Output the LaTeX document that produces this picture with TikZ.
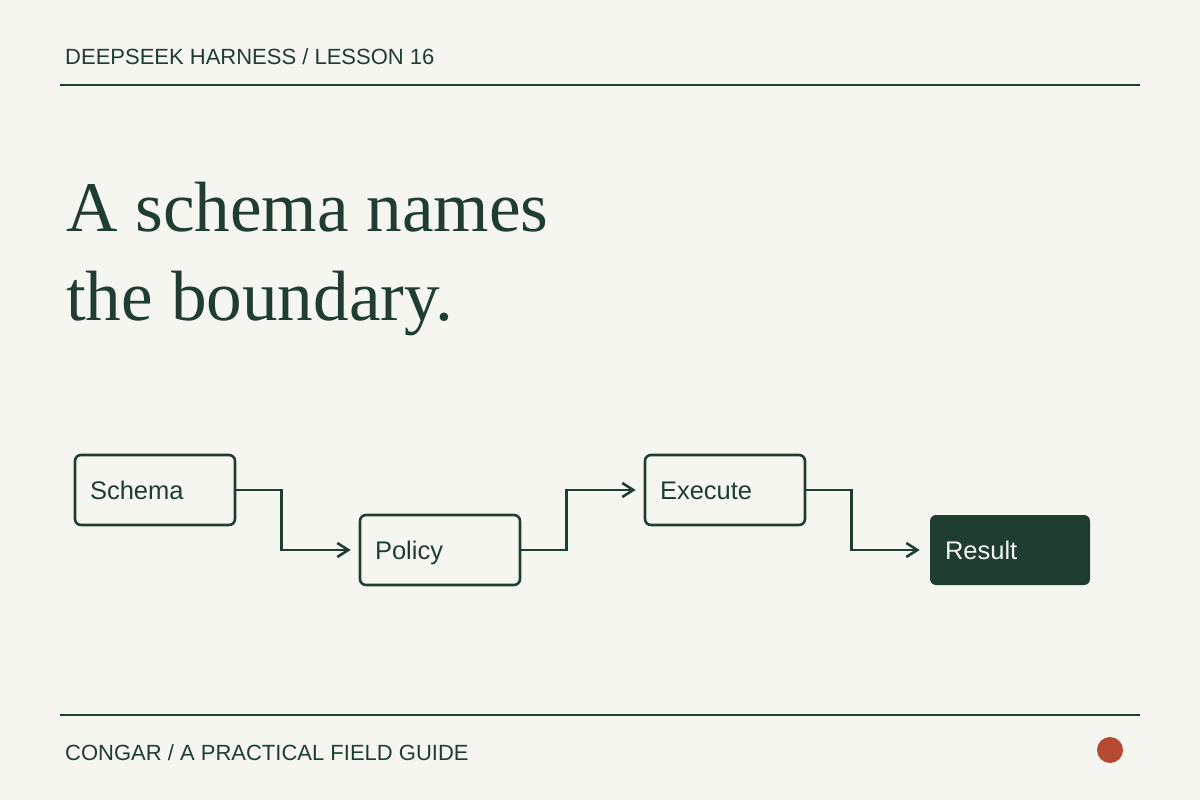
\documentclass[tikz,border=0pt]{standalone}
\usepackage{fontspec}
\setmainfont{Liberation Serif}
\setsansfont{Liberation Sans}
\usetikzlibrary{arrows.meta}
\definecolor{bg}{HTML}{F6F6F1}
\definecolor{ink}{HTML}{1F3D31}
\definecolor{dot}{HTML}{B44A30}
\begin{document}
\begin{tikzpicture}[x=1pt,y=-1pt,
  stepbox/.style={draw=ink,line width=2.6pt,rounded corners=6pt,
    minimum height=70pt,text width=130pt,inner xsep=15pt,align=left,
    text height=18.6pt,text depth=0pt,
    font=\sffamily\fontsize{25.5}{30}\selectfont,text=ink},
  donebox/.style={stepbox,draw=none,fill=ink,text=bg},
  conn/.style={draw=ink,line width=2.6pt,-{Straight Barb[length=11pt,width=14pt,line width=2.6pt]}},
  rule/.style={draw=ink,line width=2.2pt},
  small/.style={font=\sffamily\fontsize{22}{26}\selectfont,text=ink,inner sep=0pt,anchor=base west},
  title/.style={font=\rmfamily\fontsize{71.2}{80}\selectfont,text=ink,inner sep=0pt,anchor=base west}]
\fill[bg] (0,0) rectangle (1200,800);
\useasboundingbox (0,0) rectangle (1200,800);
\node[small] (hdr) at (65,65) {DEEPSEEK HARNESS / LESSON 16};
\coordinate (r1a) at (60,85); \coordinate (r1b) at (1140,85);
\draw[rule] (r1a) -- (r1b);
\node[title] (t1) at (66,231) {A schema names};
\node[title] (t2) at (66,320) {the boundary.};
\node[stepbox] (s) at (155,490) {Schema};
\node[stepbox] (p) at (440,550) {Policy};
\node[stepbox] (e) at (725,490) {Execute};
\node[donebox] (r) at (1010,550) {Result};
\draw[conn] (s.east) -- ++(45,0) |- ([xshift=-8]p.west);
\draw[conn] (p.east) -- ++(45,0) |- ([xshift=-8]e.west);
\draw[conn] (e.east) -- ++(45,0) |- ([xshift=-9]r.west);
\coordinate (r2a) at (60,715); \coordinate (r2b) at (1140,715);
\draw[rule] (r2a) -- (r2b);
\node[small] (ftr) at (65,760) {CONGAR / A PRACTICAL FIELD GUIDE};
\fill[dot] (1110,750) circle (13);
\end{tikzpicture}
\end{document}
